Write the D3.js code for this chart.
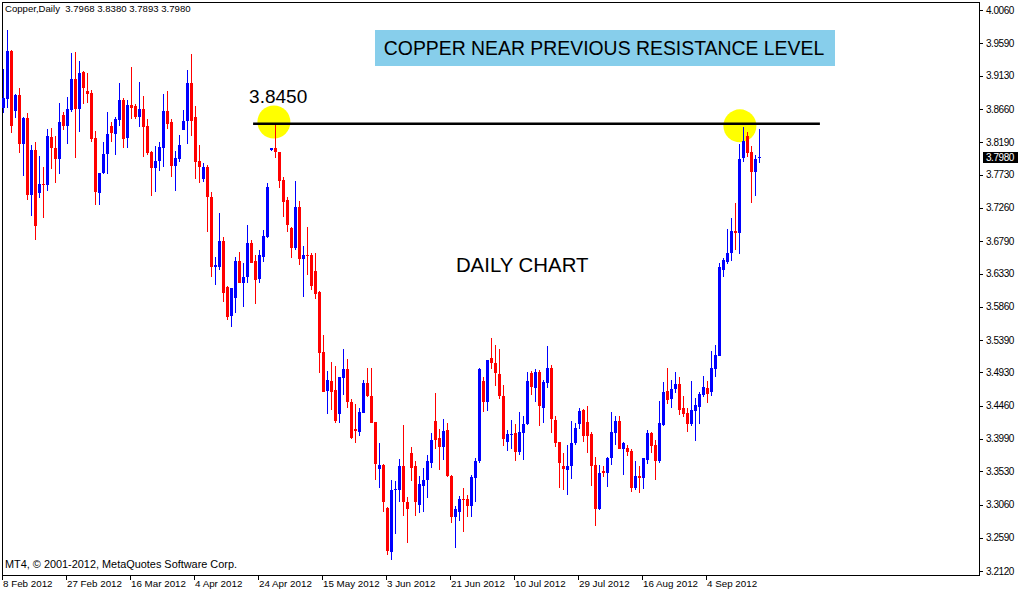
<!DOCTYPE html>
<html>
<head>
<meta charset="utf-8">
<script src="https://cdn.jsdelivr.net/npm/d3@7"></script>
<style>
  html, body { margin: 0; padding: 0; background: #fff; }
  svg { display: block; }
  text { font-family: "Liberation Sans", Arial, sans-serif; }
</style>
</head>
<body>
<div id="chart"></div>
<script>
// ---- data (Copper, Daily, bar index 0 = 8 Feb 2012) ----
const openV = [3.867,3.880,3.948,3.863,3.886,3.816,3.853,3.744,3.808,3.747,3.760,3.758,3.826,3.811,3.795,3.857,3.842,3.865,3.908,3.866,
3.918,3.891,3.889,3.825,3.747,3.775,3.802,3.842,3.831,3.850,3.879,3.825,3.872,3.870,3.855,3.866,3.842,3.805,3.782,3.792,
3.811,3.863,3.848,3.785,3.795,3.836,3.849,3.903,3.855,3.792,3.767,3.784,3.741,3.642,3.642,3.679,3.614,3.573,3.599,3.651,
3.620,3.628,3.676,3.651,3.625,3.657,3.685,3.808,3.811,3.805,3.765,3.737,3.698,3.669,3.727,3.654,3.659,3.659,3.637,3.607,
3.522,3.467,3.481,3.468,3.434,3.485,3.498,3.451,3.413,3.409,3.436,3.478,3.460,3.423,3.357,3.362,3.301,3.239,3.326,3.327,
3.360,3.310,3.379,3.360,3.306,3.333,3.341,3.365,3.425,3.400,3.388,3.412,3.347,3.289,3.296,3.314,3.314,3.304,3.344,3.367,
3.481,3.451,3.514,3.507,3.491,3.460,3.395,3.405,3.408,3.381,3.408,3.420,3.492,3.471,3.494,3.443,3.478,3.500,3.426,3.395,
3.361,3.355,3.360,3.393,3.420,3.440,3.423,3.406,3.362,3.300,3.354,3.351,3.372,3.408,3.425,3.385,3.386,3.382,3.330,3.347,
3.344,3.369,3.408,3.391,3.367,3.419,3.467,3.456,3.470,3.476,3.442,3.436,3.420,3.439,3.444,3.461,3.471,3.466,3.498,3.517,
3.638,3.650,3.662,3.693,3.690,3.796,3.828,3.805,3.777,3.7968];
const highV = [3.923,3.978,3.950,3.887,3.896,3.855,3.860,3.815,3.819,3.799,3.784,3.838,3.839,3.828,3.874,3.862,3.883,3.945,3.947,3.934,
3.919,3.917,3.893,3.835,3.776,3.819,3.862,3.848,3.855,3.903,3.882,3.879,3.925,3.873,3.904,3.884,3.852,3.806,3.814,3.819,
3.887,3.891,3.852,3.807,3.829,3.865,3.921,3.944,3.870,3.815,3.790,3.787,3.749,3.657,3.719,3.685,3.615,3.613,3.657,3.664,
3.648,3.702,3.681,3.659,3.666,3.695,3.761,3.811,3.845,3.805,3.770,3.741,3.699,3.764,3.736,3.672,3.699,3.662,3.662,3.608,
3.546,3.495,3.508,3.502,3.487,3.526,3.512,3.456,3.449,3.443,3.483,3.500,3.500,3.423,3.393,3.364,3.303,3.341,3.340,3.371,
3.419,3.317,3.388,3.367,3.347,3.358,3.376,3.408,3.464,3.413,3.427,3.422,3.348,3.304,3.318,3.330,3.320,3.348,3.372,3.500,
3.487,3.511,3.542,3.532,3.526,3.475,3.412,3.426,3.420,3.437,3.432,3.494,3.495,3.498,3.497,3.483,3.531,3.504,3.432,3.395,
3.379,3.391,3.425,3.422,3.443,3.441,3.446,3.409,3.374,3.362,3.361,3.373,3.437,3.432,3.432,3.395,3.391,3.384,3.368,3.361,
3.372,3.412,3.409,3.398,3.453,3.480,3.500,3.483,3.494,3.487,3.459,3.443,3.481,3.457,3.466,3.488,3.481,3.524,3.532,3.648,
3.655,3.696,3.712,3.733,3.816,3.840,3.833,3.814,3.801,3.8380];
const lowV = [3.860,3.867,3.832,3.853,3.804,3.771,3.737,3.715,3.681,3.740,3.712,3.750,3.781,3.761,3.774,3.836,3.816,3.862,3.797,3.833,
3.873,3.874,3.819,3.730,3.730,3.774,3.774,3.819,3.801,3.842,3.811,3.811,3.852,3.852,3.840,3.798,3.801,3.743,3.749,3.778,
3.784,3.838,3.770,3.750,3.791,3.836,3.816,3.828,3.767,3.761,3.763,3.692,3.628,3.617,3.638,3.593,3.567,3.558,3.577,3.620,
3.586,3.620,3.648,3.590,3.620,3.650,3.684,3.806,3.797,3.754,3.713,3.692,3.655,3.666,3.645,3.600,3.631,3.610,3.597,3.492,
3.466,3.434,3.440,3.422,3.422,3.461,3.442,3.399,3.393,3.403,3.436,3.458,3.422,3.341,3.330,3.296,3.235,3.228,3.265,3.310,
3.290,3.252,3.340,3.290,3.294,3.296,3.316,3.358,3.385,3.355,3.369,3.345,3.280,3.245,3.283,3.267,3.289,3.289,3.310,3.365,
3.437,3.439,3.498,3.474,3.456,3.389,3.382,3.385,3.367,3.376,3.369,3.419,3.461,3.451,3.417,3.422,3.471,3.408,3.388,3.330,
3.327,3.320,3.342,3.391,3.413,3.395,3.379,3.333,3.276,3.299,3.345,3.331,3.362,3.391,3.384,3.348,3.375,3.324,3.326,3.323,
3.328,3.364,3.379,3.341,3.365,3.417,3.449,3.443,3.464,3.433,3.430,3.409,3.417,3.396,3.420,3.458,3.450,3.460,3.487,3.516,
3.628,3.647,3.651,3.666,3.661,3.791,3.798,3.733,3.743,3.7893];
const closeV = [3.882,3.948,3.842,3.886,3.816,3.853,3.744,3.808,3.700,3.760,3.758,3.828,3.811,3.795,3.848,3.842,3.866,3.908,3.866,3.917,
3.896,3.887,3.823,3.749,3.775,3.802,3.831,3.832,3.852,3.879,3.823,3.872,3.867,3.855,3.866,3.840,3.804,3.782,3.792,3.812,
3.863,3.845,3.785,3.797,3.815,3.849,3.903,3.849,3.791,3.784,3.784,3.741,3.642,3.645,3.679,3.606,3.572,3.612,3.651,3.620,
3.628,3.676,3.648,3.624,3.659,3.686,3.756,3.811,3.805,3.764,3.734,3.702,3.669,3.727,3.654,3.659,3.658,3.616,3.604,3.521,
3.466,3.483,3.466,3.425,3.487,3.498,3.451,3.400,3.410,3.437,3.478,3.459,3.422,3.364,3.362,3.310,3.241,3.326,3.328,3.360,
3.310,3.300,3.358,3.309,3.335,3.341,3.368,3.398,3.398,3.388,3.410,3.347,3.289,3.300,3.314,3.313,3.304,3.345,3.367,3.498,
3.451,3.511,3.507,3.492,3.459,3.399,3.406,3.406,3.381,3.409,3.420,3.481,3.473,3.494,3.446,3.480,3.500,3.427,3.393,3.365,
3.357,3.360,3.393,3.415,3.439,3.403,3.403,3.361,3.300,3.351,3.350,3.372,3.409,3.425,3.385,3.393,3.380,3.330,3.347,3.343,
3.372,3.408,3.389,3.367,3.422,3.466,3.454,3.470,3.476,3.440,3.434,3.420,3.440,3.447,3.463,3.473,3.463,3.500,3.518,3.642,
3.652,3.662,3.693,3.690,3.795,3.821,3.804,3.777,3.795,3.7980];

const dateTickIndex = [0,16,32,48,64,80,96,112,128,144,160,176];
const dateTickLabels = ["8 Feb 2012","27 Feb 2012","16 Mar 2012","4 Apr 2012","24 Apr 2012","15 May 2012",
  "3 Jun 2012","21 Jun 2012","10 Jul 2012","29 Jul 2012","16 Aug 2012","4 Sep 2012"];
const priceTicks = [4.0060,3.9590,3.9130,3.8660,3.8190,3.7730,3.7260,3.6790,3.6330,3.5860,3.5390,3.4930,3.4460,3.3990,3.3530,3.3060,3.2590,3.2120];

const symbolHeader = "Copper,Daily  3.7968 3.8380 3.7893 3.7980";
const lastPrice = 3.7980;
const resistance = 3.8450;
const resistanceSpan = [62.4, 204.1];          // bar-index span of the drawn level line
const markerCircles = [{i: 67.6, p: 3.8475}, {i: 184.1, p: 3.842}];
const titleText = "COPPER NEAR PREVIOUS RESISTANCE LEVEL";
const subText = "DAILY CHART";
const copyright = "MT4, \u00A9 2001-2012, MetaQuotes Software Corp.";

// ---- layout ----
const W = 1018, H = 592;
const frameL = 2.5, frameT = 2.5, frameR = 979.5, frameB = 575.5;
const upColor = "#0000FF", downColor = "#FF0000";

const svg = d3.select("#chart").append("svg").attr("width", W).attr("height", H)
  .style("background", "#fff");

const x = d3.scaleLinear().domain([0, 189]).range([3.5, 759.5]);
const y = d3.scaleLinear().domain([3.212, 4.006]).range([571, 10]);

const bars = openV.map((o, i) => ({i, o, h: highV[i], l: lowV[i], c: closeV[i]}));

// frame
svg.append("rect").attr("x", frameL).attr("y", frameT)
  .attr("width", frameR - frameL).attr("height", frameB - frameT)
  .attr("fill", "none").attr("stroke", "#000").attr("stroke-width", 1)
  .attr("shape-rendering", "crispEdges");

const plot = svg.append("g");
plot.append("clipPath").attr("id", "clip").append("rect")
  .attr("x", 2).attr("y", 2).attr("width", frameR - 2).attr("height", frameB - 2);

// marker circles (background)
plot.selectAll("circle.mark").data(markerCircles).enter().append("circle")
  .attr("cx", d => x(d.i)).attr("cy", d => y(d.p)).attr("r", 16.5)
  .attr("fill", "#FFFF00");

// candles
const cg = plot.append("g").attr("clip-path", "url(#clip)").attr("shape-rendering", "crispEdges");
const candle = cg.selectAll("g.c").data(bars).enter().append("g")
  .attr("fill", d => d.c > d.o ? upColor : downColor);
candle.append("rect")
  .attr("x", d => x(d.i) - 0.5).attr("width", 1)
  .attr("y", d => Math.round(y(d.h)))
  .attr("height", d => Math.max(1, Math.round(y(d.l)) - Math.round(y(d.h))));
candle.append("rect")
  .attr("x", d => x(d.i) - 1.5).attr("width", 3)
  .attr("y", d => Math.round(y(Math.max(d.o, d.c))))
  .attr("height", d => Math.max(1, Math.round(y(Math.min(d.o, d.c))) - Math.round(y(Math.max(d.o, d.c)))));

// resistance line
plot.append("line")
  .attr("x1", x(resistanceSpan[0])).attr("x2", x(resistanceSpan[1]))
  .attr("y1", y(resistance)).attr("y2", y(resistance))
  .attr("stroke", "#000").attr("stroke-width", 2.6);

// annotation texts
plot.append("text").attr("x", x(61.4)).attr("y", y(resistance) - 21)
  .attr("font-size", 19).attr("fill", "#000").text(resistance.toFixed(4));

plot.append("text").attr("x", x(113.1)).attr("y", 272)
  .attr("font-size", 20.4).attr("fill", "#000").text(subText);

svg.append("rect").attr("x", 375).attr("y", 30).attr("width", 460).attr("height", 36)
  .attr("fill", "#87CEEB");
svg.append("text").attr("x", 604).attr("y", 55).attr("text-anchor", "middle")
  .attr("font-size", 19.4).attr("fill", "#000").text(titleText);

// header + copyright
svg.append("text").attr("x", 5).attr("y", 12).attr("font-size", 9.6).attr("fill", "#000")
  .attr("xml:space", "preserve").style("white-space", "pre").text(symbolHeader);
svg.append("text").attr("x", 5).attr("y", 568).attr("font-size", 10.9).attr("fill", "#000").text(copyright);

// right price axis
const ra = svg.append("g");
ra.selectAll("line.t").data(priceTicks).enter().append("line")
  .attr("x1", frameR).attr("x2", frameR + 3)
  .attr("y1", d => Math.round(y(d)) + 0.5).attr("y2", d => Math.round(y(d)) + 0.5)
  .attr("stroke", "#000").attr("shape-rendering", "crispEdges");
ra.selectAll("text.t").data(priceTicks).enter().append("text")
  .attr("x", 986).attr("y", d => y(d) + 3.6)
  .attr("font-size", 10).attr("letter-spacing", -0.45).attr("fill", "#000")
  .text(d => d.toFixed(4));
// current price label
ra.append("rect").attr("x", 983).attr("y", Math.round(y(lastPrice)) - 5).attr("width", 35).attr("height", 11)
  .attr("fill", "#000");
ra.append("text").attr("x", 986).attr("y", y(lastPrice) + 3.6)
  .attr("font-size", 10).attr("letter-spacing", -0.45).attr("fill", "#fff")
  .text(lastPrice.toFixed(4));

// bottom date axis
const ba = svg.append("g");
ba.selectAll("line.d").data(dateTickIndex).enter().append("line")
  .attr("x1", d => x(d) - 1).attr("x2", d => x(d) - 1)
  .attr("y1", frameB).attr("y2", frameB + 4)
  .attr("stroke", "#000").attr("shape-rendering", "crispEdges");
ba.selectAll("text.d").data(dateTickIndex).enter().append("text")
  .attr("x", d => x(d) - 0.5).attr("y", 587)
  .attr("font-size", 9.8).attr("fill", "#000")
  .text((d, k) => dateTickLabels[k]);
</script>
</body>
</html>
